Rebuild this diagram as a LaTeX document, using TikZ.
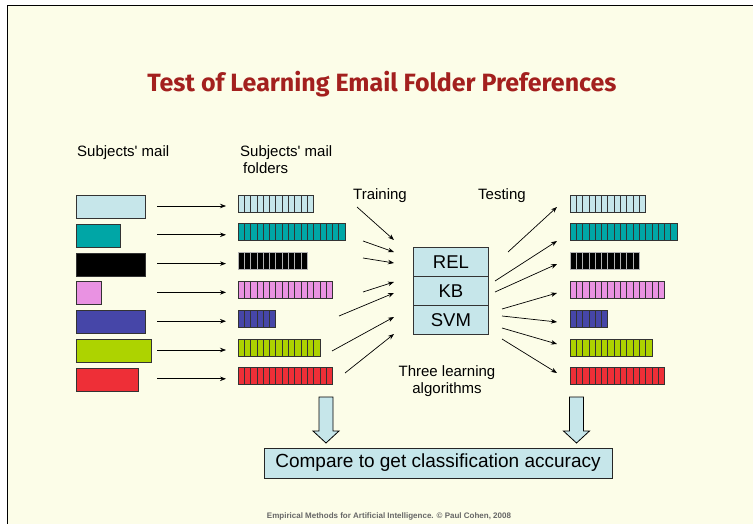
\documentclass[tikz,border=0pt]{standalone}
\usepackage{fontspec}
\setmainfont{Liberation Sans}
\newfontfamily\titlefont{Fira Sans}
\usetikzlibrary{arrows.meta}
\definecolor{slidebg}{HTML}{FCFDE8}
\definecolor{titlered}{HTML}{A3201E}
\definecolor{paleblue}{HTML}{C6E6EA}
\definecolor{tealc}{HTML}{00A6A6}
\definecolor{pinkc}{HTML}{E992E2}
\definecolor{bluec}{HTML}{4646A8}
\definecolor{limec}{HTML}{ADD300}
\definecolor{redc}{HTML}{EE2F37}
\tikzset{
  mail/.style={draw=black!80, line width=0.9pt, anchor=north west,
    minimum height=23pt, inner sep=0pt},
  bar/.style={anchor=north west, minimum height=17pt, inner sep=0pt},
  cell/.style={line width=0.8pt},
  flow/.style={-{Stealth[length=6pt,width=4.5pt]}, line width=0.7pt},
  algo/.style={draw=black!80, fill=paleblue, line width=0.8pt,
    minimum width=75pt, minimum height=29pt, inner sep=0pt,
    anchor=north west, font=\fontsize{18.5}{20}\selectfont},
  note/.style={inner sep=0pt, font=\fontsize{15}{17}\selectfont}
}
\begin{document}
\begin{tikzpicture}[x=1pt,y=-1pt]
  \useasboundingbox (0,0) rectangle (753,524);
  \fill[slidebg] (7.5,5.5) rectangle (753,524);
  \draw[line width=1.6pt] (7.5,524) -- (7.5,5.5) -- (753,5.5);
  \node[anchor=base, inner sep=0pt, text=titlered] (title) at (382,92)
    {\titlefont\bfseries\fontsize{25}{28}\selectfont Test of Learning Email Folder Preferences};
  % column heads
  \node[note, anchor=base west] (mailhead) at (77,156.5) {Subjects\textquotesingle{} mail};
  \node[note, anchor=base west, align=left] (folderhead) at (240,173.3)
    {Subjects\textquotesingle{} mail\\[-0.4pt]\hspace*{3pt}folders};
  \node[note, anchor=base west] (train) at (353,200) {Training};
  \node[note, anchor=base west] (test) at (478,200) {Testing};
  % mail, folders and results
  \foreach \i/\w/\n/\c/\e in {1/69/12/paleblue/black!80, 2/44/17/tealc/black!80,
      3/69/11/black/black!30, 4/25/15/pinkc/black!80, 5/69/6/bluec/black!80,
      6/75/13/limec/black!80, 7/62/15/redc/black!80}{
    \pgfmathsetmacro\rowy{195+28.8*(\i-1)}
    \node[mail, fill=\c, minimum width=\w pt] (m\i) at (76,\rowy) {};
    \node[bar, minimum width=\n*6.3pt] (f\i) at (238,\rowy) {};
    \node[bar, minimum width=\n*6.3pt] (r\i) at (570,\rowy) {};
    \foreach \k in {1,...,\n}{
      \draw[cell, draw=\e, fill=\c] ([xshift=\k*6.3pt-6.3pt]f\i.north west) rectangle ++(6.3,17);
      \draw[cell, draw=\e, fill=\c] ([xshift=\k*6.3pt-6.3pt]r\i.north west) rectangle ++(6.3,17);
    }
    \coordinate (a\i) at (157,\rowy+11);
    \coordinate (b\i) at (226,\rowy+11);
    \draw[flow] (a\i) -- (b\i);
  }
  % learners
  \node[algo] (rel) at (413,247) {REL};
  \node[algo] (kb) at (413,276) {KB};
  \node[algo] (svm) at (413,305) {SVM};
  \node[note, align=center, anchor=base] (three) at (447,393)
    {Three learning\\[-0.4pt]algorithms};
  % training and testing arrows
  \foreach \i/\sx/\sy/\tx/\ty in {1/357/207/394/240, 2/363/241/394/252,
      3/363/258/394/263, 4/363/292/394/282, 5/339/316/394/293,
      6/332/351/394/317, 7/345/373/394/334}{
    \coordinate (ts\i) at (\sx,\sy);
    \coordinate (tt\i) at (\tx,\ty);
    \draw[flow] (ts\i) -- (tt\i);
  }
  \foreach \i/\sx/\sy/\tx/\ty in {1/508/252/557/207, 2/495/281/557/241,
      3/495/292/557/264, 4/502/309/557/293, 5/502/316/557/322,
      6/502/328/557/344, 7/502/339/557/373}{
    \coordinate (es\i) at (\sx,\sy);
    \coordinate (et\i) at (\tx,\ty);
    \draw[flow] (es\i) -- (et\i);
  }
  % block arrows down to the comparison
  \foreach \cx in {326,576.5}
    \draw[fill=paleblue, line width=0.8pt] (\cx-7,397) -- (\cx+7,397) -- (\cx+7,431)
      -- (\cx+13,431) -- (\cx,443) -- (\cx-13,431) -- (\cx-7,431) -- cycle;
  \node[draw=black!85, fill=paleblue, line width=0.8pt, minimum width=348pt,
    minimum height=30pt, inner sep=0pt, font=\fontsize{19}{21}\selectfont]
    (cmp) at (438,463) {Compare to get classification accuracy};
  \node[anchor=base, inner sep=0pt, text=black!60, font=\bfseries\fontsize{8}{9}\selectfont]
    (foot) at (389,518) {Empirical Methods for Artificial Intelligence. © Paul Cohen, 2008};
\end{tikzpicture}
\end{document}
